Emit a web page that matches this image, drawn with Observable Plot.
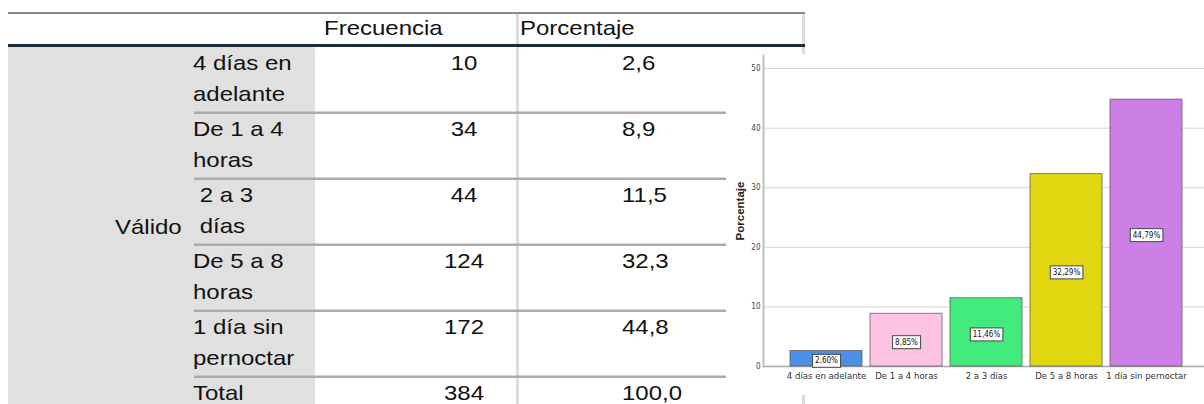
<!DOCTYPE html>
<html><head><meta charset="utf-8">
<script src="https://cdn.jsdelivr.net/npm/d3@7"></script>
<script src="https://cdn.jsdelivr.net/npm/@observablehq/plot@0.6"></script>
<style>
body{margin:0;background:#fff;}
#wrap{position:relative;width:1204px;height:404px;overflow:hidden;}
#chart{position:absolute;left:700px;top:40px;}
#tabla{position:absolute;left:0;top:0;}
</style></head><body>
<div id="wrap"><div id="chart"></div><svg id="tabla" width="1204" height="404"></svg></div>
<script>
// ---- table data ----
const encabezados = ["Frecuencia", "Porcentaje"];
const grupo = "Válido";
const filasEtiqueta = [["4 días en","adelante"],["De 1 a 4","horas"],["\u00a02 a 3","\u00a0días"],["De 5 a 8","horas"],["1 día sin","pernoctar"],["Total"]];
const frecuencia = [10, 34, 44, 124, 172, 384];
const porcentajeTabla = ["2,6", "8,9", "11,5", "32,3", "44,8", "100,0"];
// ---- chart data ----
const categorias = ["4 días en adelante","De 1 a 4 horas","2 a 3 días","De 5 a 8 horas","1 día sin pernoctar"];
const porcentajes = [2.60, 8.85, 11.46, 32.29, 44.79];
const colores = ["#4c8fe6","#fcc2e2","#43ea7d","#e2d60f","#cc80e6"];
const ticksY = [0, 10, 20, 30, 40, 50];

const datos = categorias.map((c, i) => ({cat: c, pct: porcentajes[i], color: colores[i],
  etiqueta: porcentajes[i].toFixed(2).replace(".", ",") + "%"}));
const narrow = '"Liberation Sans Narrow","Arial Narrow","DejaVu Sans Condensed",sans-serif';

const chart = Plot.plot({
  width: 504, height: 364, marginLeft: 63, marginRight: 0, marginTop: 15, marginBottom: 38,
  style: {background: "transparent", overflow: "visible", fontFamily: narrow},
  x: {domain: categorias, paddingInner: 0.1, paddingOuter: 0.05, insetLeft: 22, insetRight: 17, label: null},
  y: {domain: [0, 52.2], label: null},
  marks: [
    Plot.gridY(ticksY.slice(1), {stroke: "#d6d6d6", strokeOpacity: 1}),
    Plot.ruleY([0], {stroke: "#a9a9a9", strokeWidth: 1.5}),
    Plot.frame({anchor: "left", stroke: "#bfbfbf", strokeWidth: 2}),
    Plot.barY(datos, {x: "cat", y: "pct", fill: "color", stroke: "#5a5a5a", strokeOpacity: 0.75, strokeWidth: 1}),
    Plot.axisY(ticksY, {tickSize: 0, tickPadding: 3, fontSize: 8, fill: "#444", label: null}),
    Plot.axisX({tickSize: 0, tickPadding: 6, fontSize: 9.5, fill: "#333", label: null}),
    Plot.text(["Porcentaje"], {text: d => d, frameAnchor: "left", rotate: -90, dx: -23, textAnchor: "middle",
      fontWeight: "bold", fontSize: 11.5, fill: "#222", fontFamily: '"Liberation Sans", Arial, sans-serif'}),
    Plot.text(datos, {x: "cat", y: d => d.pct / 2, text: "etiqueta", dy: 2, fontSize: 8, fill: "#111"})
  ]
});
document.getElementById("chart").appendChild(chart);
// white boxes behind bar labels
d3.select(chart).selectAll("text").filter(function() { return /%$/.test(this.textContent); }).each(function() {
  const node = this;
  const b = node.getBBox();
  const r = document.createElementNS("http://www.w3.org/2000/svg", "rect");
  r.setAttribute("x", b.x - 2.5); r.setAttribute("y", b.y - 2);
  r.setAttribute("width", b.width + 5); r.setAttribute("height", b.height + 4);
  r.setAttribute("fill", "#fff"); r.setAttribute("stroke", "#444"); r.setAttribute("stroke-width", 1);
  const t = node.getAttribute("transform");
  if (t) r.setAttribute("transform", t);
  node.parentNode.insertBefore(r, node);
});

// ---- table ----
const T = d3.select("#tabla");
const fuente = '"Liberation Sans", Arial, sans-serif';
const box = (x, y, w, h, c) => T.append("rect").attr("x", x).attr("y", y).attr("width", w).attr("height", h).attr("fill", c);
box(8, 47, 307, 357, "#e0e0e0");
box(516, 13, 3, 391, "#dcdcdc");
box(802, 13, 3, 41, "#dcdcdc");
box(802, 395, 3, 9, "#dcdcdc");
box(8, 12, 797, 2, "#8a8a8a");
box(8, 44, 797, 3, "#1c2b38");
for (let i = 0; i < 5; i++) box(194, 111.5 + 66 * i, 532, 2.5, "#ababab");
function txt(s, x, y, anchor) {
  T.append("text").attr("transform", `translate(${x},${y}) scale(1.2,1)`)
    .attr("text-anchor", anchor).attr("font-family", fuente).attr("font-size", 20)
    .attr("fill", "#111").text(s);
}
txt(encabezados[0], 324, 35, "start");
txt(encabezados[1], 520, 35, "start");
filasEtiqueta.forEach((lines, i) => {
  const base = 70 + 66 * i;
  lines.forEach((l, j) => txt(l, 193, base + 30.5 * j, "start"));
  txt(String(frecuencia[i]), 464, base, "middle");
  txt(porcentajeTabla[i], 622, base, "start");
});
txt(grupo, 115, 234, "start");
</script>
</body></html>
